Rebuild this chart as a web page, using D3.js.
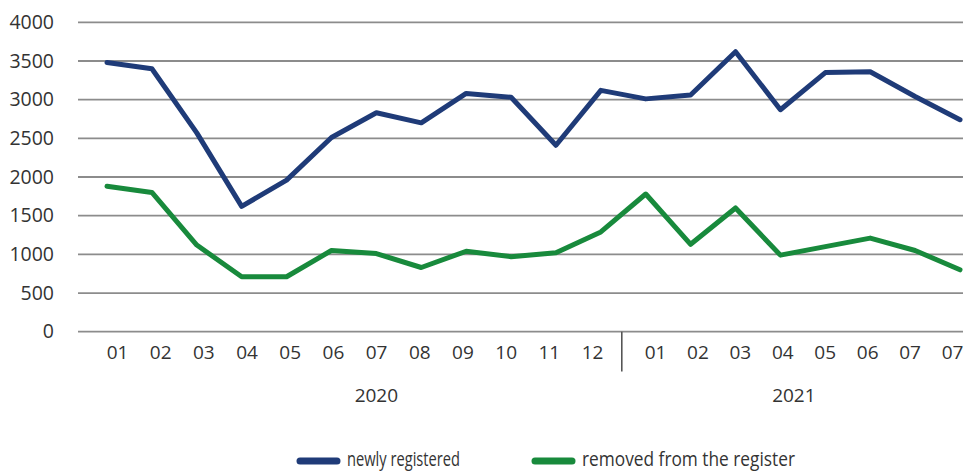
<!DOCTYPE html>
<html>
<head>
<meta charset="utf-8">
<script src="https://cdn.jsdelivr.net/npm/d3@7"></script>
<style>
  html, body { margin: 0; padding: 0; background: #fff; }
  svg { display: block; }
  text { font-family: "Open Sans", sans-serif; fill: #333; }
</style>
</head>
<body>
<svg id="chart" width="965" height="473"></svg>
<script>
// ---- data ----
const monthLabels = ["01","02","03","04","05","06","07","08","09","10","11","12",
                     "01","02","03","04","05","06","07","07"];
const years = ["2020","2021"];
const yearOfPoint = [0,0,0,0,0,0,0,0,0,0,0,0,1,1,1,1,1,1,1,1];
const newlyRegistered = [3480,3400,2570,1620,1960,2510,2830,2700,3080,3030,2410,3120,
                         3010,3060,3620,2870,3350,3360,3040,2740];
const removedFromRegister = [1880,1800,1120,710,710,1050,1010,830,1040,970,1020,1290,
                             1780,1130,1600,990,1100,1210,1050,800];
const yTicks = [0,500,1000,1500,2000,2500,3000,3500,4000];
const seriesNames = ["newly registered","removed from the register"];
const seriesColors = ["#1f3b78","#188a3c"];

// ---- layout ----
const svg = d3.select("#chart");
const plotLeft = 78, plotRight = 963;
const idx = d3.range(monthLabels.length);
const x = d3.scalePoint().domain(idx).range([107, 960]);
const xi = d3.scaleLinear().domain([0, idx.length - 1]).range([107, 960]);
const y = d3.scaleLinear().domain([0, 4000]).range([331.7, 22.3]);

// gridlines
svg.append("g").selectAll("line").data(yTicks).join("line")
  .attr("x1", plotLeft).attr("x2", plotRight)
  .attr("y1", d => y(d)).attr("y2", d => y(d))
  .attr("stroke", "#8c8c8c").attr("stroke-width", 1.8);

// y axis labels
const yAxis = d3.axisLeft(y).tickValues(yTicks).tickSize(0).tickPadding(0).tickFormat(d3.format("d"));
const yg = svg.append("g").attr("transform", "translate(54,0)").call(yAxis);
yg.select(".domain").remove();
yg.selectAll("text").style("font-size", "19.5px").style("font-family", "'Open Sans', sans-serif").attr("fill", "#333");

// x axis month labels: one label scale per year group
const labelRanges = [[117, 592], [655, 952]];
years.forEach((yr, k) => {
  const members = idx.filter(i => yearOfPoint[i] === k);
  const lx = d3.scalePoint().domain(members).range(labelRanges[k]);
  const xAxis = d3.axisBottom(lx).tickSize(0).tickPadding(0).tickFormat(i => monthLabels[i]);
  const xg = svg.append("g").attr("transform", "translate(0,345)").call(xAxis);
  xg.select(".domain").remove();
  xg.selectAll("text").style("font-size", "19px").style("font-family", "'Open Sans', sans-serif").attr("fill", "#333");
});

// year divider
const divX = (x(11) + x(12)) / 2 - 1.5;
svg.append("line").attr("x1", divX).attr("x2", divX).attr("y1", y(0)).attr("y2", 371.5)
  .attr("stroke", "#555").attr("stroke-width", 1.6);

// year labels
const yearPos = [6.0, 15.3];
svg.append("g").selectAll("text").data(years).join("text")
  .attr("x", (d, i) => xi(yearPos[i])).attr("y", 401.5)
  .attr("text-anchor", "middle").style("font-size", "19px").text(d => d);

// lines
const line = d3.line().x((d, i) => x(i)).y(d => y(d)).curve(d3.curveLinear);
[newlyRegistered, removedFromRegister].forEach((s, k) => {
  svg.append("path").datum(s)
    .attr("d", line).attr("fill", "none")
    .attr("stroke", seriesColors[k]).attr("stroke-width", 5)
    .attr("stroke-linejoin", "round").attr("stroke-linecap", "round");
});

// legend
const legendX = [297, 532];
const legendLen = [113, 213];
const lg = svg.append("g");
seriesNames.forEach((name, k) => {
  lg.append("line").attr("x1", legendX[k] + 3).attr("x2", legendX[k] + 40)
    .attr("y1", 461).attr("y2", 461)
    .attr("stroke", seriesColors[k]).attr("stroke-width", 7).attr("stroke-linecap", "round");
  lg.append("text").attr("x", legendX[k] + 50).attr("y", 466)
    .style("font-size", "19.5px")
    .attr("textLength", legendLen[k]).attr("lengthAdjust", "spacingAndGlyphs")
    .text(name);
});
</script>
</body>
</html>
